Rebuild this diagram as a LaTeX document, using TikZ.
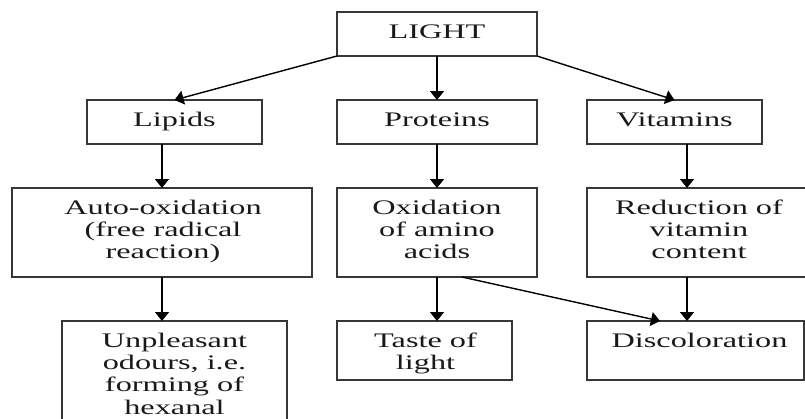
\documentclass[tikz,border=0pt]{standalone}
\usepackage{graphicx}
\usepackage{fontspec}
\setmainfont{Liberation Serif}
\usetikzlibrary{arrows.meta}
\definecolor{boxc}{RGB}{55,55,55}
\definecolor{txtc}{RGB}{25,25,25}
\newcommand{\wt}[1]{\scalebox{1.56}[1]{#1}}
\begin{document}
\begin{tikzpicture}[x=1pt,y=-1pt,
  box/.style={draw=boxc,line width=1.2pt,inner sep=0pt,outer sep=0pt},
  txt/.style={anchor=north,inner sep=0pt,align=center,text=txtc,
    font=\fontsize{20.7}{22.3}\selectfont},
  arr/.style={-{Triangle[length=9pt,width=14pt]},line width=1.4pt,draw=black}]
\fill[white] (0,0) rectangle (805,418);
\useasboundingbox (0,0) rectangle (805,418);
% boxes
\node[box,minimum width=200pt,minimum height=44pt] (light) at (437,34) {};
\node[box,minimum width=175pt,minimum height=44pt] (lipids) at (174.5,122) {};
\node[box,minimum width=200pt,minimum height=44pt] (proteins) at (437,122) {};
\node[box,minimum width=175pt,minimum height=44pt] (vitamins) at (674.5,122) {};
\node[box,minimum width=300pt,minimum height=89pt] (auto) at (162,232.5) {};
\node[box,minimum width=200pt,minimum height=89pt] (oxid) at (437,232.5) {};
\node[box,minimum width=221pt,minimum height=89pt] (reduc) at (697.5,232.5) {};
\node[box,minimum width=225pt,minimum height=104pt] (unpl) at (174.5,373) {};
\node[box,minimum width=175pt,minimum height=59pt] (taste) at (424.5,350.5) {};
\node[box,minimum width=217pt,minimum height=59pt] (disc) at (695.5,350.5) {};
% texts
\node[txt] (tlight) at (437,22.4) {\strut\wt{LIGHT}};
\node[txt] (tlipids) at (174.5,110.4) {\strut\wt{Lipids}};
\node[txt] (tproteins) at (437,110.4) {\strut\wt{Proteins}};
\node[txt] (tvitamins) at (674.5,110.4) {\strut\wt{Vitamins}};
\node[txt] (tauto) at (163,198.4) {\strut\wt{Auto-oxidation}\\\wt{(free radical}\\\wt{reaction)}};
\node[txt] (toxid) at (437,198.4) {\strut\wt{Oxidation}\\\wt{of amino}\\\wt{acids}};
\node[txt] (treduc) at (699,198.4) {\strut\wt{Reduction of}\\\wt{vitamin}\\\wt{content}};
\node[txt] (tunpl) at (174.5,331.4) {\strut\wt{Unpleasant}\\\wt{odours, i.e.}\\\wt{forming of}\\\wt{hexanal}};
\node[txt] (ttaste) at (425.5,331.4) {\strut\wt{Taste of}\\\wt{light}};
\node[txt] (tdisc) at (699.5,331.4) {\strut\wt{Discoloration}};
% helper coordinates
\coordinate (rtop) at ([xshift=100pt]reduc.north west);
\coordinate (rbot) at ([xshift=100pt]reduc.south west);
\coordinate (os) at ([xshift=25pt]oxid.south);
\coordinate (dn) at ([xshift=73pt]disc.north west);
% arrows
\draw[arr] (light.south west) -- (lipids.north);
\draw[arr] (light.south) -- (proteins.north);
\draw[arr] (light.south east) -- (vitamins.north);
\draw[arr] (lipids.south -| auto.north) -- (auto.north);
\draw[arr] (proteins.south) -- (oxid.north);
\draw[arr] (rtop |- vitamins.south) -- (rtop);
\draw[arr] (auto.south) -- (auto.south |- unpl.north);
\draw[arr] (oxid.south) -- (oxid.south |- taste.north);
\draw[arr] (os) -- (dn);
\draw[arr] (rbot) -- (rbot |- disc.north);
\end{tikzpicture}
\end{document}
